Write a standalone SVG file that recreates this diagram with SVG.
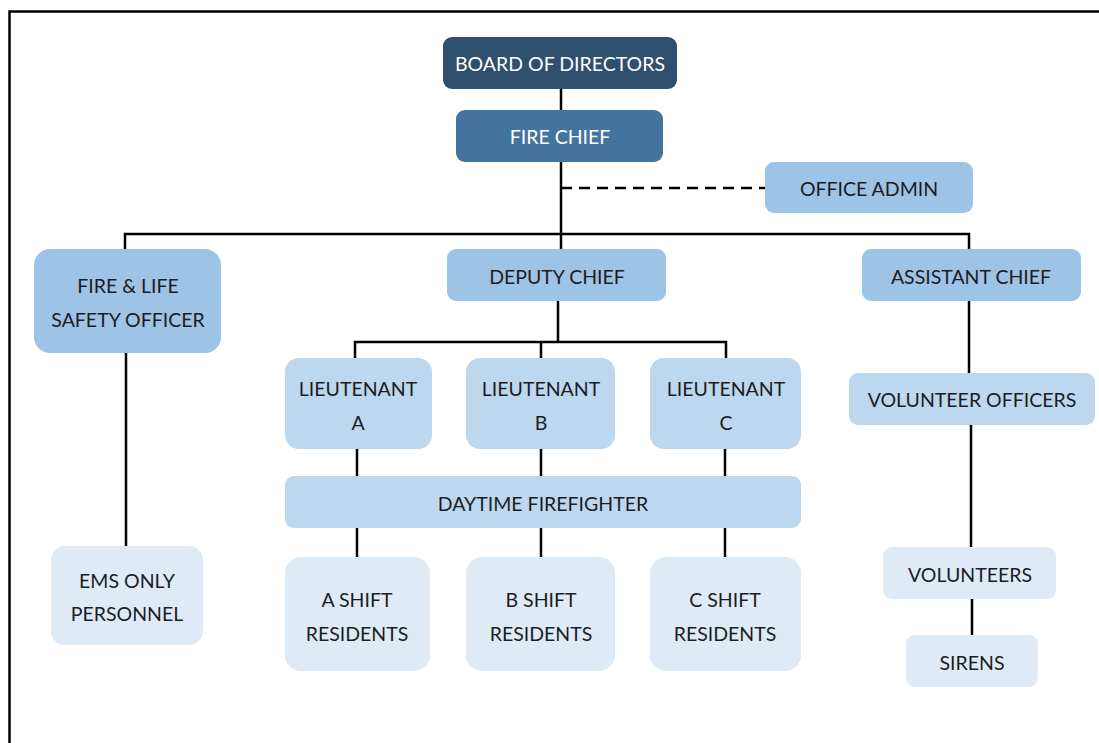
<svg xmlns="http://www.w3.org/2000/svg" width="1099" height="743" viewBox="0 0 1099 743">
<style>
.t{font-family:Lato,"Open Sans",sans-serif;font-size:19.5px;text-anchor:middle;fill:#1c1c24}
.w{fill:#ffffff}
.l1{fill:#2e4f6d}
.l2{fill:#44739f}
.l3{fill:#9dc3e6}
.l4{fill:#bdd7ee}
.l5{fill:#deebf7}
.c{stroke:#000;stroke-width:2.5;fill:none}
</style>
<rect x="0" y="0" width="1099" height="743" fill="#fff"/>
<path d="M9.5 743 V11.5 H1099" stroke="#000" stroke-width="2.5" fill="none"/>
<g id="connectors">
<path class="c" d="M561 89 V110 M561 162 V249 M125 249 V234 H969 V249 M126 353 V546 M558 301 V342 M355 358 V342 H726 V358 M541 342 V358 M357 449 V476 M541 449 V476 M725 449 V476 M357 528 V557 M541 528 V557 M725 528 V557 M969 301 V373 M971 425 V547 M972 599 V635"/>
<path class="c" d="M561 188 H765" stroke-dasharray="11 7"/>
</g>
<g id="board"><rect class="l1" x="443" y="37" width="234" height="52" rx="9"/><text class="t w" x="560" y="71">BOARD OF DIRECTORS</text></g>
<g id="firechief"><rect class="l2" x="456" y="110" width="207" height="52" rx="9"/><text class="t w" x="560" y="144">FIRE CHIEF</text></g>
<g id="officeadmin"><rect class="l3" x="765" y="162" width="208" height="51" rx="9"/><text class="t" x="869" y="196">OFFICE ADMIN</text></g>
<g id="firelife"><rect class="l3" x="34" y="249" width="187" height="104" rx="16"/><text class="t" x="128" y="293">FIRE &amp; LIFE</text><text class="t" x="128" y="327">SAFETY OFFICER</text></g>
<g id="deputy"><rect class="l3" x="447" y="249" width="219" height="52" rx="9"/><text class="t" x="557" y="284">DEPUTY CHIEF</text></g>
<g id="assistant"><rect class="l3" x="862" y="249" width="219" height="52" rx="9"/><text class="t" x="971" y="284">ASSISTANT CHIEF</text></g>
<g id="ltA"><rect class="l4" x="285" y="358" width="147" height="91" rx="14"/><text class="t" x="358" y="396">LIEUTENANT</text><text class="t" x="358" y="430">A</text></g>
<g id="ltB"><rect class="l4" x="466" y="358" width="149" height="91" rx="14"/><text class="t" x="541" y="396">LIEUTENANT</text><text class="t" x="541" y="430">B</text></g>
<g id="ltC"><rect class="l4" x="650" y="358" width="151" height="91" rx="14"/><text class="t" x="726" y="396">LIEUTENANT</text><text class="t" x="726" y="430">C</text></g>
<g id="volofficers"><rect class="l4" x="849" y="373" width="246" height="52" rx="9"/><text class="t" x="972" y="407">VOLUNTEER OFFICERS</text></g>
<g id="daytime"><rect class="l4" x="285" y="476" width="516" height="52" rx="9"/><text class="t" x="543" y="511">DAYTIME FIREFIGHTER</text></g>
<g id="ems"><rect class="l5" x="51" y="546" width="152" height="99" rx="14"/><text class="t" x="127" y="588">EMS ONLY</text><text class="t" x="127" y="621">PERSONNEL</text></g>
<g id="shiftA"><rect class="l5" x="285" y="557" width="145" height="114" rx="16"/><text class="t" x="357" y="607">A SHIFT</text><text class="t" x="357" y="641">RESIDENTS</text></g>
<g id="shiftB"><rect class="l5" x="466" y="557" width="149" height="114" rx="16"/><text class="t" x="541" y="607">B SHIFT</text><text class="t" x="541" y="641">RESIDENTS</text></g>
<g id="shiftC"><rect class="l5" x="650" y="557" width="151" height="114" rx="16"/><text class="t" x="725" y="607">C SHIFT</text><text class="t" x="725" y="641">RESIDENTS</text></g>
<g id="volunteers"><rect class="l5" x="883" y="547" width="173" height="52" rx="9"/><text class="t" x="970" y="582">VOLUNTEERS</text></g>
<g id="sirens"><rect class="l5" x="906" y="635" width="132" height="52" rx="9"/><text class="t" x="972" y="670">SIRENS</text></g>
</svg>
